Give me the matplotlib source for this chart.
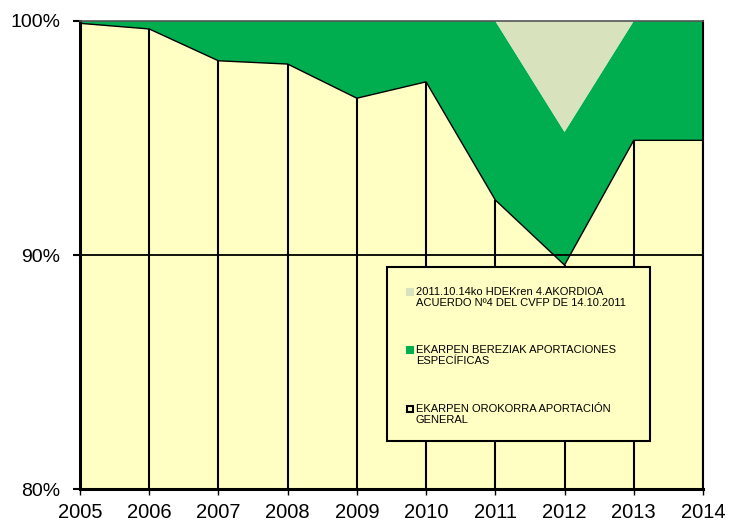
import numpy as np
import matplotlib.pyplot as plt
from matplotlib.patches import Rectangle

plt.rcParams['font.family'] = ['Liberation Sans', 'DejaVu Sans']

# datos (% sobre el total)
years = [2005, 2006, 2007, 2008, 2009, 2010, 2011, 2012, 2013, 2014]
orokorra = [99.9, 99.66, 98.3, 98.16, 96.7, 97.4, 92.35, 89.57, 94.9, 94.9]
akordioa = [0, 0, 0, 0, 0, 0, 0, 4.74, 0, 0]
bereziak = [100 - a - b for a, b in zip(orokorra, akordioa)]

yticks = [80, 90, 100]
ytick_labels = ['80%', '90%', '100%']

lbl_akordioa = '2011.10.14ko HDEKren 4.AKORDIOA\nACUERDO Nº4 DEL CVFP DE 14.10.2011'
lbl_bereziak = 'EKARPEN BEREZIAK APORTACIONES\nESPECÍFICAS'
lbl_orokorra = 'EKARPEN OROKORRA APORTACIÓN\nGENERAL'

YELLOW = '#FFFFC4'
GREEN = '#00AE4F'
LIGHT = '#D8E3BE'

fig = plt.figure(figsize=(7.29, 5.21), dpi=100)
ax = fig.add_axes([0.1097, 0.0614, 0.8546, 0.8983])

ax.stackplot(years, orokorra, bereziak, akordioa,
             colors=[YELLOW, GREEN, LIGHT], linewidth=0)
ax.plot(years, orokorra, color='black', linewidth=1.0, zorder=3)

# lineas verticales en cada año
ax.vlines(years, 80, orokorra, color='black', linewidth=1.5, zorder=3)
ax.axhline(90, color='black', linewidth=1.3, zorder=3)

ax.set_xlim(2005, 2014)
ax.set_ylim(80, 100)
ax.set_xticks(years)
ax.set_xticklabels([str(y) for y in years], fontsize=14.5)
ax.set_yticks(yticks)
ax.set_yticklabels(ytick_labels, fontsize=14)
ax.tick_params(axis='y', length=5, width=1.5, direction='out', pad=9)
ax.tick_params(axis='x', length=4, width=1, direction='out', pad=6)

for s in ['left', 'bottom']:
    ax.spines[s].set_linewidth(2.2)
ax.spines['right'].set_linewidth(1.5)
ax.spines['top'].set_linewidth(1.2)
ax.spines['top'].set_color('#555555')

# leyenda dibujada a mano (cuadro + marcadores + textos)
ax.add_patch(Rectangle((0.493, 0.1026), 0.422, 0.372, transform=ax.transAxes,
                       facecolor=YELLOW, edgecolor='black', linewidth=1.5, zorder=5))
entries = [(LIGHT, LIGHT, 0.4316, lbl_akordioa),
           (GREEN, GREEN, 0.3077, lbl_bereziak),
           (YELLOW, 'black', 0.1816, lbl_orokorra)]
for fc, ec, ytop, txt in entries:
    ax.add_patch(Rectangle((0.5255, ytop - 0.0165), 0.0085, 0.0115, transform=ax.transAxes,
                           facecolor=fc, edgecolor=ec, linewidth=1.5, zorder=6))
    ax.text(0.5393, ytop, txt, transform=ax.transAxes, fontsize=8, va='top', ha='left',
            linespacing=1.1, zorder=6)

fig.savefig('out.png', dpi=100)
